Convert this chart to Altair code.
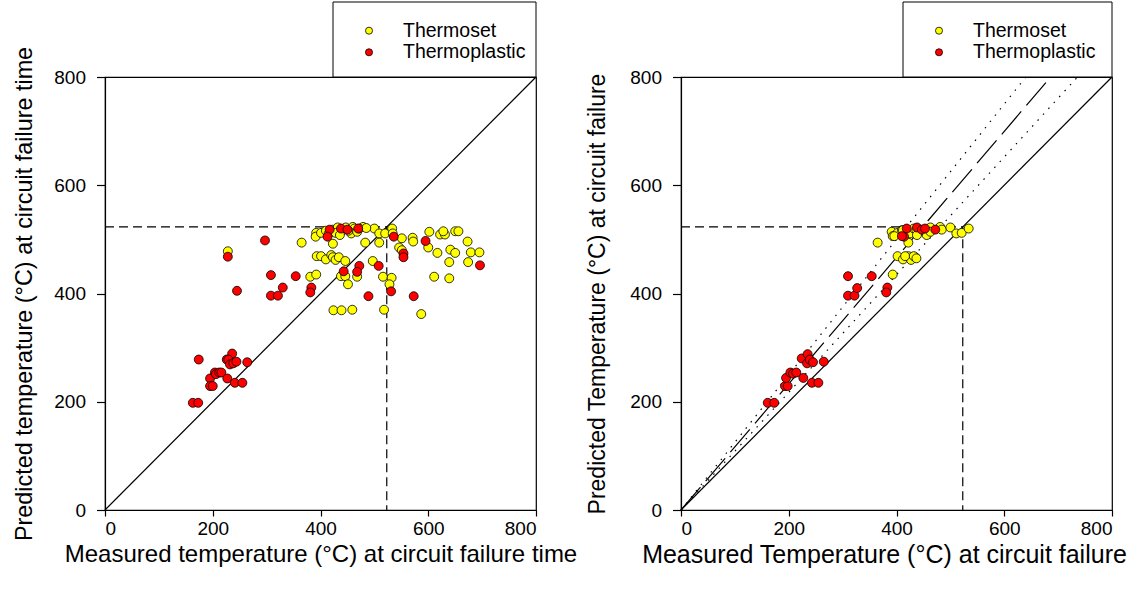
import altair as alt
import pandas as pd

series = ["Thermoset", "Thermoplastic"]
colors = ["#FFFF00", "#FF0000"]
ticks = [0, 200, 400, 600, 800]
threshold = 523
fit_slope = 1.166
band_slopes = [1.25, 1.087]

# ---- left panel: measured vs predicted (failure time)
left_ts_x = [365, 392, 391, 401, 410, 423, 432, 441, 447, 457, 460, 463, 479, 500, 509, 520, 533, 534,
             415, 428, 436, 452, 468, 472, 485,
             423, 483, 509, 551, 571, 572, 546, 551, 602, 622, 631, 628, 650, 656, 673, 600, 617, 641,
             650, 679, 695, 639, 674, 393, 401, 410, 420, 423, 428, 434, 446, 497, 438, 446, 468, 451,
             381, 392, 516, 532, 528, 611, 639, 424, 439, 459, 518, 587, 228]
left_ts_y = [494, 512, 505, 512, 516, 518, 522, 517, 522, 511, 523, 520, 523, 520, 511, 511, 520, 511,
             510, 512, 508, 516, 514, 520, 521,
             492, 494, 494, 502, 503, 496, 485, 480, 514, 509, 509, 515, 515, 515, 496, 485, 475, 481,
             475, 476, 476, 458, 458, 469, 469, 463, 471, 467, 462, 467, 460, 460, 432, 432, 431, 417,
             431, 435, 431, 429, 417, 431, 428, 369, 369, 370, 370, 362, 478]
left_tp_x = [174, 163, 173, 195, 195, 200, 204, 206, 212, 216, 227, 236, 226, 229, 232, 238, 244, 264,
             241, 255, 228, 245, 297, 308, 308, 321, 330,
             417, 413, 438, 450, 470, 536, 595, 554, 554, 696, 472, 508, 443, 468, 354, 383, 381, 489,
             531, 573]
left_tp_y = [278, 198, 198, 243, 229, 229, 254, 251, 254, 254, 243, 289, 278, 278, 269, 271, 274, 273,
             235, 235, 468, 405, 498, 434, 396, 396, 411,
             518, 505, 520, 518, 520, 505, 497, 474, 467, 452, 451, 451, 441, 440, 432, 411, 402, 395,
             404, 395]

# ---- right panel: measured vs predicted (failure)
right_ts_x = [365, 391, 393, 402, 410, 422, 425, 432, 441, 456, 459, 463, 481, 484, 500, 511, 521, 534,
              396, 412, 437, 438, 456, 463,
              402, 412, 422, 427, 435, 416, 432, 437, 393]
right_ts_y = [494, 514, 506, 512, 517, 494, 511, 520, 514, 511, 517, 522, 523, 518, 522, 511, 512, 520,
              506, 517, 517, 508, 508, 514,
              469, 463, 469, 462, 467, 469, 469, 465, 435]
right_tp_x = [161, 173, 193, 198, 195, 203, 208, 214, 227, 224, 235, 234, 239, 245, 265, 243, 255,
              310, 310, 322, 327, 354, 383, 381,
              419, 414, 410, 438, 447, 453, 472]
right_tp_y = [198, 198, 229, 229, 244, 254, 252, 254, 244, 280, 288, 271, 278, 273, 274, 235, 235,
              432, 396, 396, 410, 432, 411, 402,
              520, 505, 506, 522, 518, 520, 518]

left_titles = ("Measured temperature (°C) at circuit failure time",
               "Predicted temperature (°C) at circuit failure time")
right_titles = ("Measured Temperature (°C) at circuit failure",
                "Predicted Temperature (°C) at circuit failure")

FONT = "Liberation Sans"
W, H = 431, 433


def panel(ts_x, ts_y, tp_x, tp_y, titles, xfont, yfont, y_title_pad, legend_left, with_fit, x_title_x=None):
    xs = alt.Scale(domain=[0, 800], nice=False, zero=False)
    ys = alt.Scale(domain=[0, 800], nice=False, zero=False)
    xaxis_kw = dict(values=ticks, title=titles[0], titlePadding=4, titleFontSize=xfont,
                    tickSize=6, labelPadding=3)
    if x_title_x is not None:
        xaxis_kw["titleX"] = x_title_x
    X = alt.X("x:Q", scale=xs, axis=alt.Axis(**xaxis_kw))
    Y = alt.Y("y:Q", scale=ys, axis=alt.Axis(values=ticks, title=titles[1], titlePadding=y_title_pad,
                                             titleFontSize=yfont, tickSize=8.5, labelPadding=11))

    df = pd.DataFrame({
        "x": ts_x + tp_x,
        "y": ts_y + tp_y,
        "s": [series[0]] * len(ts_x) + [series[1]] * len(tp_x),
    })

    layers = []
    diag = pd.DataFrame({"x": [0, 800], "y": [0, 800], "o": [0, 1]})
    layers.append(alt.Chart(diag).mark_line(color="black", strokeWidth=1.2).encode(
        x=X, y=Y, order="o:Q"))

    if with_fit:
        for slope, dash in [(fit_slope, [30, 8]), (band_slopes[0], [1.5, 6.5]),
                            (band_slopes[1], [1.5, 6.5])]:
            d = pd.DataFrame({"x": [0, 800 / slope], "y": [0, 800], "o": [0, 1]})
            layers.append(alt.Chart(d).mark_line(
                color="black", strokeWidth=1.2, strokeDash=dash).encode(x=X, y=Y, order="o:Q"))

    thr = pd.DataFrame({"x": [0, threshold, threshold], "y": [threshold, threshold, 0], "o": [0, 1, 2]})
    layers.append(alt.Chart(thr).mark_line(color="black", strokeWidth=1.2, strokeDash=[9, 5]).encode(
        x=X, y=Y, order="o:Q"))

    layers.append(alt.Chart(df).mark_circle(size=80, stroke="black", strokeWidth=0.8, opacity=1).encode(
        x=X, y=Y,
        color=alt.Color("s:N", scale=alt.Scale(domain=series, range=colors), legend=None),
    ))

    # legend box above the plot
    one = pd.DataFrame({"a": [0]})
    layers.append(alt.Chart(one).mark_rect(fill="white", stroke="black", strokeWidth=1).encode(
        x=alt.value(legend_left), x2=alt.value(W), y=alt.value(-75), y2=alt.value(0)))
    sym_x = legend_left + 36
    txt_x = legend_left + 70
    for i, (name, col) in enumerate(zip(series, colors)):
        ry = -46.3 + i * 21.6
        layers.append(alt.Chart(one).mark_circle(size=50, fill=col, stroke="black", strokeWidth=0.8,
                                                 opacity=1).encode(
            x=alt.value(sym_x), y=alt.value(ry)))
        layers.append(alt.Chart(one).mark_text(text=name, align="left", baseline="middle",
                                               font=FONT, fontSize=19.5, color="black").encode(
            x=alt.value(txt_x), y=alt.value(ry)))

    return alt.layer(*layers).properties(width=W, height=H)


left = panel(left_ts_x, left_ts_y, left_tp_x, left_tp_y, left_titles, 24, 23.4, 17, 228, False)
right = panel(right_ts_x, right_ts_y, right_tp_x, right_tp_y, right_titles, 25, 23, 20, 222, True,
              x_title_x=203)

chart = alt.hconcat(left, right, spacing=145, bounds="flush").properties(
    padding={"left": 12, "top": 0, "right": 0, "bottom": 0}
).configure(background="white").configure_view(
    stroke="black", strokeWidth=1.2
).configure_axis(
    grid=False, domainColor="black", tickColor="black", labelColor="black", titleColor="black",
    labelFont=FONT, titleFont=FONT, labelFontSize=19, titleFontWeight="normal",
    domainWidth=1.2, tickWidth=1.2
)

chart.save("out.html", embed_options={"renderer": "svg", "actions": False})
